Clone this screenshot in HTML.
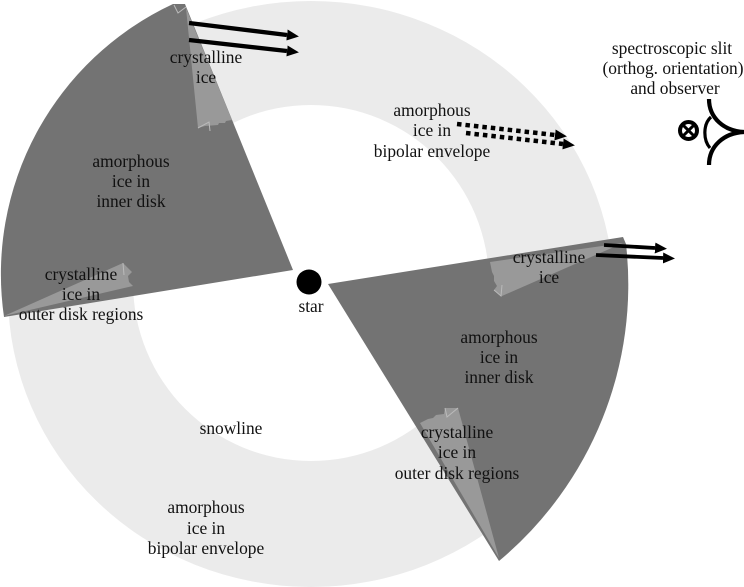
<!DOCTYPE html>
<html>
<head>
<meta charset="utf-8">
<style>
html,body{margin:0;padding:0;background:#fff;}
svg{display:block;}
text{font-family:"Liberation Serif",serif;font-size:17.4px;fill:#111;text-anchor:middle;}
</style>
</head>
<body>
<svg width="744" height="587" viewBox="0 0 744 587" xmlns="http://www.w3.org/2000/svg">
<defs>
<marker id="a" markerUnits="userSpaceOnUse" markerWidth="14" markerHeight="12" refX="0" refY="5.500" orient="auto"><path d="M0 0L12 5.500L0 11Z" fill="#000"/></marker>
</defs>
<path fill-rule="evenodd" fill="#ebebeb" d="M311 1A303 293 0 1 1 310.900 587A303 293 0 1 1 311 1ZM311 105A178 178 0 1 0 311.100 461A178 178 0 1 0 311 105Z"/>
<path fill="#737373" d="M293 270L185 4L173 4A298 298 0 0 0 4 317Z"/>
<path fill="#737373" d="M328 284L623 237L626 244A360 360 0 0 1 499 561Z"/>
<path fill="#999" d="M186 8L232 120L226 121L225 123L219 123L218 125L205 126L198 128Z"/>
<path fill="#999" d="M4 316L123 263L132 272L128 276L129 282L133 286Z"/>
<path fill="#999" d="M490 262L623 243L502 296L494 290L497 286L494 281L494 276L492 272Z"/>
<path fill="#999" d="M499 558L458 408L445 408L444 414L436 415L433 418L428 419L420 423Z"/>
<path fill="none" stroke="#bbb" stroke-width="1" d="M198 128L209 122L210 131M174 5L178 13L186 7M123 263L124 275M445 408L447 417L458 408M494 290L501 296L502 285"/>
<g stroke="#000" fill="none">
<path stroke-width="4.300" marker-end="url(#a)" d="M189 23L287 35"/>
<path stroke-width="4.300" marker-end="url(#a)" d="M189 40L287 51"/>
<path stroke-width="3.800" marker-end="url(#a)" d="M604 245L655 248"/>
<path stroke-width="3.800" marker-end="url(#a)" d="M596 255L663 258"/>
<path stroke-width="4.500" stroke-dasharray="4.500 4" marker-end="url(#a)" d="M457 124L555 135"/>
<path stroke-width="4.500" stroke-dasharray="4.500 4" marker-end="url(#a)" d="M466 133L563 144"/>
<circle cx="688.500" cy="130.500" r="8.500" stroke-width="4"/>
<path stroke-width="3" d="M683 125L694 136M694 125L683 136"/>
<path stroke-width="4.200" d="M709 99C709 118 724 131 744 132C724 133 709 146 709 165"/>
<path stroke-width="3.200" d="M711 117C703 124 703 140 710 148"/>
</g>
<circle cx="309" cy="282" r="12.500" fill="#000"/>
<text x="311" y="312">star</text>
<text x="206" y="63">crystalline</text>
<text x="206" y="83">ice</text>
<text x="131" y="167">amorphous</text>
<text x="131" y="187">ice in</text>
<text x="131" y="207">inner disk</text>
<text x="81" y="280">crystalline</text>
<text x="81" y="300">ice in</text>
<text x="81" y="320">outer disk regions</text>
<text x="432" y="116">amorphous</text>
<text x="432" y="136">ice in</text>
<text x="432" y="157">bipolar envelope</text>
<text x="672" y="54">spectroscopic slit</text>
<text x="673" y="74">(orthog. orientation)</text>
<text x="675" y="94">and observer</text>
<text x="549" y="263">crystalline</text>
<text x="549" y="283">ice</text>
<text x="499" y="343">amorphous</text>
<text x="499" y="363">ice in</text>
<text x="499" y="383">inner disk</text>
<text x="457" y="438">crystalline</text>
<text x="457" y="458">ice in</text>
<text x="457" y="479">outer disk regions</text>
<text x="231" y="434">snowline</text>
<text x="206" y="513">amorphous</text>
<text x="206" y="534">ice in</text>
<text x="206" y="554">bipolar envelope</text>
</svg>
</body>
</html>
